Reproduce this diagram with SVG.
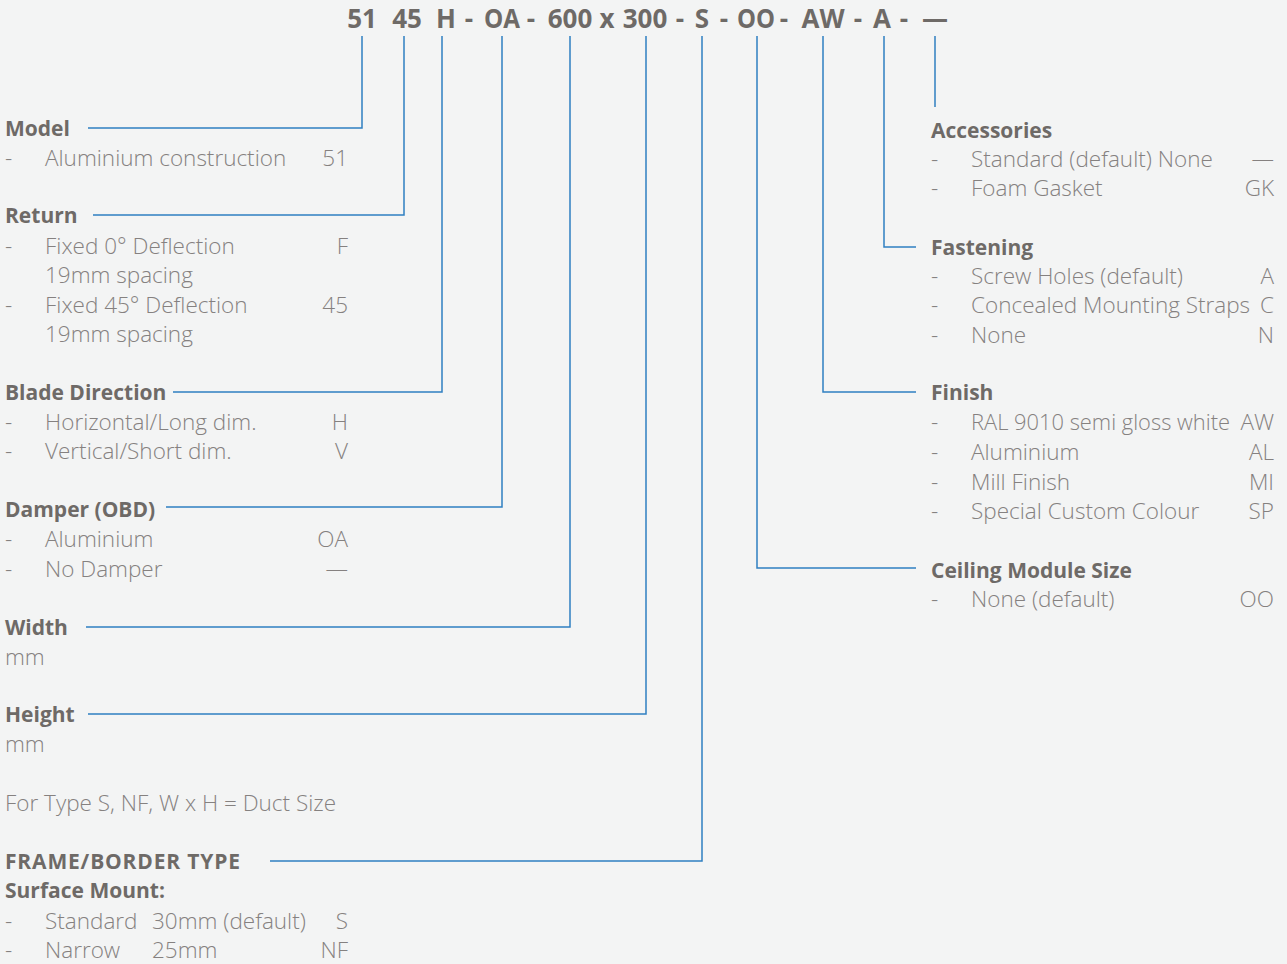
<svg xmlns="http://www.w3.org/2000/svg" width="1287" height="964" viewBox="0 0 1287 964">
<style>
text{font-family:"Open Sans","Liberation Sans",sans-serif}
.code{font-size:26px;font-weight:700;fill:#6e6a67;text-anchor:middle}
.h{font-size:21px;font-weight:700;fill:#6e6a67}
.b{font-size:22.5px;font-weight:300;fill:#858180}
.r{text-anchor:end}
.ln{fill:none;stroke:#2f7fc1;stroke-width:1.5}
</style>
<rect width="1287" height="964" fill="#f3f4f4"/>
<g id="code">
<text class="code" x="362" y="28">51</text>
<text class="code" x="407" y="28">45</text>
<text class="code" x="446" y="28">H</text>
<text class="code" x="469" y="28">-</text>
<text class="code" x="502" y="28" textLength="36" lengthAdjust="spacingAndGlyphs">OA</text>
<text class="code" x="531" y="28">-</text>
<text class="code" x="570" y="28">600</text>
<text class="code" x="607" y="28">x</text>
<text class="code" x="645" y="28">300</text>
<text class="code" x="680" y="28">-</text>
<text class="code" x="702" y="28">S</text>
<text class="code" x="724" y="28">-</text>
<text class="code" x="756" y="28" textLength="38" lengthAdjust="spacingAndGlyphs">OO</text>
<text class="code" x="784" y="28">-</text>
<text class="code" x="823" y="28">AW</text>
<text class="code" x="858" y="28">-</text>
<text class="code" x="882" y="28">A</text>
<text class="code" x="904" y="28">-</text>
<text class="code" x="935" y="28">—</text>
</g>
<g id="connectors">
<polyline class="ln" points="362,36 362,128 88,128"/>
<polyline class="ln" points="404,36 404,215 93,215"/>
<polyline class="ln" points="442,36 442,392 173,392"/>
<polyline class="ln" points="502,36 502,507 166,507"/>
<polyline class="ln" points="570,36 570,627 86,627"/>
<polyline class="ln" points="646,36 646,714 88,714"/>
<polyline class="ln" points="702,36 702,861 270,861"/>
<polyline class="ln" points="757,36 757,568 916,568"/>
<polyline class="ln" points="823,36 823,392 916,392"/>
<polyline class="ln" points="884,36 884,247 916,247"/>
<polyline class="ln" points="935,36 935,107"/>
</g>
<g id="model">
<text class="h" x="5" y="136">Model</text>
<text class="b" x="5" y="166">-</text><text class="b" x="45" y="166">Aluminium construction</text><text class="b r" x="348" y="166">51</text>
</g>
<g id="return">
<text class="h" x="5" y="223">Return</text>
<text class="b" x="5" y="254">-</text><text class="b" x="45" y="254">Fixed 0° Deflection</text><text class="b r" x="348" y="254">F</text>
<text class="b" x="45" y="283">19mm spacing</text>
<text class="b" x="5" y="313">-</text><text class="b" x="45" y="313">Fixed 45° Deflection</text><text class="b r" x="348" y="313">45</text>
<text class="b" x="45" y="342">19mm spacing</text>
</g>
<g id="blade">
<text class="h" x="5" y="400">Blade Direction</text>
<text class="b" x="5" y="430">-</text><text class="b" x="45" y="430">Horizontal/Long dim.</text><text class="b r" x="348" y="430">H</text>
<text class="b" x="5" y="459">-</text><text class="b" x="45" y="459">Vertical/Short dim.</text><text class="b r" x="348" y="459">V</text>
</g>
<g id="damper">
<text class="h" x="5" y="517">Damper (OBD)</text>
<text class="b" x="5" y="547">-</text><text class="b" x="45" y="547">Aluminium</text><text class="b r" x="348" y="547">OA</text>
<text class="b" x="5" y="577">-</text><text class="b" x="45" y="577">No Damper</text><text class="b r" x="348" y="577">—</text>
</g>
<g id="width">
<text class="h" x="5" y="635">Width</text>
<text class="b" x="5" y="665">mm</text>
</g>
<g id="height">
<text class="h" x="5" y="722">Height</text>
<text class="b" x="5" y="752">mm</text>
<text class="b" x="5" y="811">For Type S, NF, W x H = Duct Size</text>
</g>
<g id="frame">
<text class="h" x="5" y="869" textLength="235">FRAME/BORDER TYPE</text>
<text class="h" x="5" y="898">Surface Mount:</text>
<text class="b" x="5" y="929">-</text><text class="b" x="45" y="929">Standard</text><text class="b" x="152" y="929">30mm (default)</text><text class="b r" x="348" y="929">S</text>
<text class="b" x="5" y="958">-</text><text class="b" x="45" y="958">Narrow</text><text class="b" x="152" y="958">25mm</text><text class="b r" x="348" y="958">NF</text>
</g>
<g id="accessories">
<text class="h" x="931" y="138">Accessories</text>
<text class="b" x="931" y="167">-</text><text class="b" x="971" y="167">Standard (default) None</text><text class="b r" x="1274" y="167">—</text>
<text class="b" x="931" y="196">-</text><text class="b" x="971" y="196">Foam Gasket</text><text class="b r" x="1274" y="196">GK</text>
</g>
<g id="fastening">
<text class="h" x="931" y="255">Fastening</text>
<text class="b" x="931" y="284">-</text><text class="b" x="971" y="284">Screw Holes (default)</text><text class="b r" x="1274" y="284">A</text>
<text class="b" x="931" y="313">-</text><text class="b" x="971" y="313">Concealed Mounting Straps</text><text class="b r" x="1274" y="313">C</text>
<text class="b" x="931" y="343">-</text><text class="b" x="971" y="343">None</text><text class="b r" x="1274" y="343">N</text>
</g>
<g id="finish">
<text class="h" x="931" y="400">Finish</text>
<text class="b" x="931" y="430">-</text><text class="b" x="971" y="430" textLength="259" lengthAdjust="spacingAndGlyphs">RAL 9010 semi gloss white</text><text class="b r" x="1274" y="430">AW</text>
<text class="b" x="931" y="460">-</text><text class="b" x="971" y="460">Aluminium</text><text class="b r" x="1274" y="460">AL</text>
<text class="b" x="931" y="490">-</text><text class="b" x="971" y="490">Mill Finish</text><text class="b r" x="1274" y="490">MI</text>
<text class="b" x="931" y="519">-</text><text class="b" x="971" y="519">Special Custom Colour</text><text class="b r" x="1274" y="519">SP</text>
</g>
<g id="ceiling">
<text class="h" x="931" y="578">Ceiling Module Size</text>
<text class="b" x="931" y="607">-</text><text class="b" x="971" y="607">None (default)</text><text class="b r" x="1274" y="607">OO</text>
</g>
</svg>
